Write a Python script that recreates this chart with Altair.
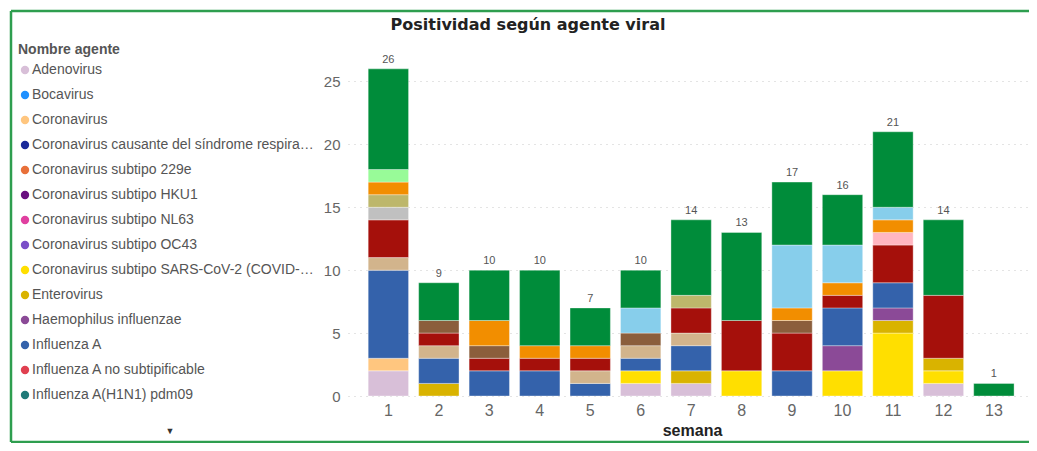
import altair as alt
import pandas as pd

agents = [
    "Adenovirus", "Bocavirus", "Coronavirus",
    "Coronavirus causante del síndrome respiratorio de Oriente Medio (MERS-CoV)",
    "Coronavirus subtipo 229e", "Coronavirus subtipo HKU1", "Coronavirus subtipo NL63",
    "Coronavirus subtipo OC43", "Coronavirus subtipo SARS-CoV-2 (COVID-19)",
    "Enterovirus", "Haemophilus influenzae", "Influenza A",
    "Influenza A no subtipificable", "Influenza A(H1N1) pdm09",
    "Influenza A(H3N2)", "Influenza B", "Metapneumovirus", "Mycoplasma pneumoniae",
    "Parainfluenza 1", "Parainfluenza 2", "Parainfluenza 3", "Parainfluenza 4",
    "Rinovirus", "Virus sincitial respiratorio",
]
colors = [
    "#D8BFD8", "#1E90FF", "#FFC67F", "#1A2A9A", "#E8703A", "#6A0F80", "#E040A0",
    "#7B4FC8", "#FFDF00", "#D9B300", "#8B4A97", "#3462AB", "#E04050", "#1F7A78",
    "#D2B48C", "#A5100B", "#C0C0C0", "#BDB76B", "#FFB6C1", "#8B5E3C", "#F28E00",
    "#98FB98", "#87CEEB", "#008C3A",
]

weeks = list(range(1, 14))
# counts per agent per week (semana 1..13)
counts = {
    "Adenovirus":                 [2, 0, 0, 0, 0, 1, 1, 0, 0, 0, 0, 1, 0],
    "Coronavirus":                [1, 0, 0, 0, 0, 0, 0, 0, 0, 0, 0, 0, 0],
    "Coronavirus subtipo SARS-CoV-2 (COVID-19)":
                                  [0, 0, 0, 0, 0, 1, 0, 2, 0, 2, 5, 1, 0],
    "Enterovirus":                [0, 1, 0, 0, 0, 0, 1, 0, 0, 0, 1, 1, 0],
    "Haemophilus influenzae":     [0, 0, 0, 0, 0, 0, 0, 0, 0, 2, 1, 0, 0],
    "Influenza A":                [7, 2, 2, 2, 1, 1, 2, 0, 2, 3, 2, 0, 0],
    "Influenza A(H3N2)":          [1, 1, 0, 0, 1, 1, 1, 0, 0, 0, 0, 0, 0],
    "Influenza B":                [3, 1, 1, 1, 1, 0, 2, 4, 3, 1, 3, 5, 0],
    "Metapneumovirus":            [1, 0, 0, 0, 0, 0, 0, 0, 0, 0, 0, 0, 0],
    "Mycoplasma pneumoniae":      [1, 0, 0, 0, 0, 0, 1, 0, 0, 0, 0, 0, 0],
    "Parainfluenza 1":            [0, 0, 0, 0, 0, 0, 0, 0, 0, 0, 1, 0, 0],
    "Parainfluenza 2":            [0, 1, 1, 0, 0, 1, 0, 0, 1, 0, 0, 0, 0],
    "Parainfluenza 3":            [1, 0, 2, 1, 1, 0, 0, 0, 1, 1, 1, 0, 0],
    "Parainfluenza 4":            [1, 0, 0, 0, 0, 0, 0, 0, 0, 0, 0, 0, 0],
    "Rinovirus":                  [0, 0, 0, 0, 0, 2, 0, 0, 5, 3, 1, 0, 0],
    "Virus sincitial respiratorio": [8, 3, 4, 6, 3, 3, 6, 7, 5, 4, 6, 6, 1],
}

title_text = "Positividad según agente viral"

rows = []
for a, vals in counts.items():
    for w, v in zip(weeks, vals):
        if v > 0:
            rows.append({"semana": w, "agente": a, "n": v, "orden": agents.index(a)})
df = pd.DataFrame(rows)

FONT = "Liberation Sans"
GREEN = "#2E9E4F"

bars = alt.Chart(df).mark_bar(stroke="white", strokeWidth=0.6, strokeOpacity=0.6).encode(
    x=alt.X("semana:O", title="semana",
            scale=alt.Scale(paddingInner=0.2, paddingOuter=0.348, align=0.575),
            axis=alt.Axis(labelAngle=0, labelFontSize=16, labelColor="#666666",
                          labelFont=FONT, ticks=False, domain=False, labelPadding=6,
                          titleFont=FONT, titleFontSize=16, titleFontWeight="bold",
                          titleColor="#222222", titlePadding=4, titleX=344)),
    y=alt.Y("n:Q", title=None, stack="zero",
            scale=alt.Scale(domain=[0, 27.5], nice=False),
            axis=alt.Axis(values=[0, 5, 10, 15, 20, 25], labelFontSize=15,
                          labelColor="#666666", labelFont=FONT, ticks=False,
                          domain=False, labelPadding=8, gridColor="#C8C8C8",
                          gridDash=[1, 5], gridWidth=1)),
    color=alt.Color("agente:N",
                    scale=alt.Scale(domain=agents, range=colors),
                    legend=alt.Legend(
                        title="Nombre agente", orient="none", legendX=-330, legendY=-7,
                        values=agents[:14], symbolType="circle", symbolSize=70,
                        symbolStrokeWidth=0, labelFontSize=14, labelFont=FONT,
                        labelColor="#555555", labelLimit=282, titleFont=FONT,
                        titleFontSize=14, titleFontWeight="bold", titleColor="#555555",
                        titlePadding=6, rowPadding=11.0, clipHeight=14, symbolOffset=0,
                        labelOffset=0)),
    order=alt.Order("orden:Q", sort="ascending"),
)

totals = alt.Chart(df).mark_text(dy=-9, fontSize=11, font=FONT, color="#555555").encode(
    x="semana:O",
    y=alt.Y("sum(n):Q"),
    text=alt.Text("sum(n):Q"),
)

one = pd.DataFrame({"k": [0]})
border_top = alt.Chart(one).mark_rule(color=GREEN, strokeWidth=2.5).encode(
    x=alt.value(-337), x2=alt.value(760), y=alt.value(-39))
border_left = alt.Chart(one).mark_rule(color=GREEN, strokeWidth=2.5).encode(
    x=alt.value(-337), y=alt.value(-39), y2=alt.value(392))
border_bottom = alt.Chart(one).mark_rule(color=GREEN, strokeWidth=2.5).encode(
    x=alt.value(-337), x2=alt.value(760), y=alt.value(392))

title = alt.Chart(pd.DataFrame({"t": [title_text]})).mark_text(
    font="DejaVu Sans", fontSize=16, fontWeight="bold", color="#222222",
    baseline="middle", align="center").encode(
    text="t:N", x=alt.value(180), y=alt.value(-25))

arrow = alt.Chart(one).mark_text(
    text="▼", fontSize=9, color="#333333").encode(x=alt.value(-178), y=alt.value(381))

chart = alt.layer(border_top, border_left, border_bottom, bars, totals, title, arrow).properties(
    width=681, height=346,
    padding={"left": 340, "top": 42, "right": 0, "bottom": 47},
    autosize=alt.AutoSizeParams(type="none"),
).configure_view(stroke=None)

chart.save("out.html", embed_options={"renderer": "svg", "actions": False})
